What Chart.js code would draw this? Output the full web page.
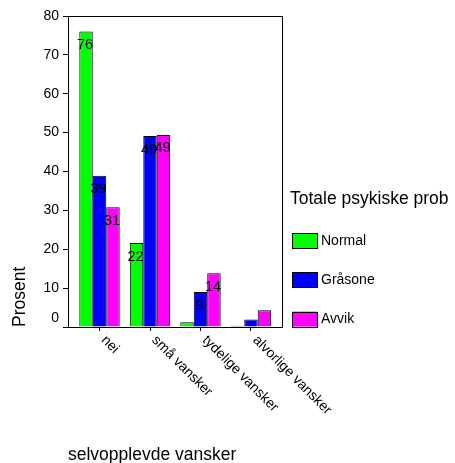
<!DOCTYPE html>
<html>
<head>
<meta charset="utf-8">
<script src="https://cdn.jsdelivr.net/npm/chart.js@4.4.1/dist/chart.umd.min.js"></script>
<style>
  body { margin: 0; background: #fff; }
</style>
</head>
<body>
<canvas id="chart" width="455" height="463"></canvas>
<script>
const categories = ['nei', 'små vansker', 'tydelige vansker', 'alvorlige vansker'];
const groups = ['Normal', 'Gråsone', 'Avvik'];
const normal = [76, 21.6, 1.2, 0.3];
const graasone = [38.9, 49.1, 9, 1.9];
const avvik = [30.8, 49.4, 13.8, 4.3];
const colors = ['#00ff00', '#0000ff', '#ff00ff'];

const FONT = '"Liberation Sans", Arial, sans-serif';
Chart.defaults.font.family = FONT;
Chart.defaults.color = '#000';

const toPoints = vals => vals.map((v, i) => ({ x: i, y: v }));

// frame, value labels, slanted category labels and the legend on the right
const extras = {
    id: 'extras',
    afterDatasetsDraw(chart) {
        const { ctx, chartArea: a, scales: { x } } = chart;
        ctx.save();
        ctx.strokeStyle = '#000';
        ctx.lineWidth = 1;
        ctx.strokeRect(Math.round(a.left) + 0.5, Math.round(a.top) + 0.5,
            Math.round(a.right - a.left), Math.round(a.bottom - a.top));

        ctx.fillStyle = '#000';
        ctx.font = '14.5px ' + FONT;
        ctx.textAlign = 'center';
        ctx.textBaseline = 'middle';
        chart.data.datasets.forEach((ds, i) => {
            chart.getDatasetMeta(i).data.forEach((bar, j) => {
                const v = ds.data[j].y;
                if (v < 5) return;
                ctx.fillText(Math.round(v), bar.x - 1, bar.y + 13.5);
            });
        });

        ctx.font = '14px ' + FONT;
        ctx.textAlign = 'left';
        categories.forEach((c, i) => {
            ctx.save();
            ctx.translate(x.getPixelForValue(i) + 4, a.bottom + 11);
            ctx.rotate(Math.PI / 4);
            ctx.fillText(c, 0, 0);
            ctx.restore();
        });

        // legend
        const lx = a.right + 8;
        ctx.font = '17.5px ' + FONT;
        ctx.fillText('Totale psykiske prob', lx, 199.5);
        ctx.font = '14px ' + FONT;
        chart.data.datasets.forEach((ds, i) => {
            const top = 233 + i * 39.3;
            ctx.fillStyle = ds.backgroundColor;
            ctx.fillRect(lx + 2, top, 25, 15);
            ctx.strokeRect(Math.round(lx + 2) + 0.5, Math.round(top) + 0.5, 25, 15);
            ctx.fillStyle = '#000';
            ctx.fillText(ds.label, lx + 31, top + 8);
        });
        ctx.restore();
    }
};

new Chart(document.getElementById('chart'), {
    type: 'bar',
    data: {
        datasets: [
            { label: groups[0], data: toPoints(normal), backgroundColor: colors[0] },
            { label: groups[1], data: toPoints(graasone), backgroundColor: colors[1] },
            { label: groups[2], data: toPoints(avvik), backgroundColor: colors[2] }
        ]
    },
    options: {
        responsive: false,
        animation: false,
        layout: { padding: { top: 16, right: 173, left: 0, bottom: 0 } },
        datasets: {
            bar: {
                categoryPercentage: 0.8,
                barPercentage: 1,
                borderColor: '#000',
                borderWidth: 1
            }
        },
        plugins: {
            legend: { display: false },
            tooltip: { enabled: false }
        },
        scales: {
            x: {
                type: 'linear',
                offset: false,
                min: -0.624,
                max: 3.614,
                afterBuildTicks: scale => { scale.ticks = categories.map((c, i) => ({ value: i })); },
                afterFit: scale => { scale.height = 136; },
                ticks: { display: false },
                grid: { offset: false, drawOnChartArea: false, tickLength: 4, color: '#000' },
                border: { color: '#000' },
                title: {
                    display: true,
                    text: 'selvopplevde vansker',
                    align: 'start',
                    font: { size: 17.5, lineHeight: 0.84 },
                    padding: 0
                }
            },
            y: {
                min: 0,
                max: 80,
                afterFit: scale => { scale.width = 68; },
                ticks: {
                    stepSize: 10,
                    padding: 4,
                    font: { size: 14 },
                    callback: v => v === 0 ? ['0', ''] : v
                },
                grid: { drawOnChartArea: false, tickLength: 5, color: '#000' },
                border: { color: '#000' },
                title: {
                    display: true,
                    text: 'Prosent',
                    align: 'start',
                    font: { size: 17.5 },
                    padding: { top: 9.5, bottom: 0 }
                }
            }
        }
    },
    plugins: [extras]
});
</script>
</body>
</html>
